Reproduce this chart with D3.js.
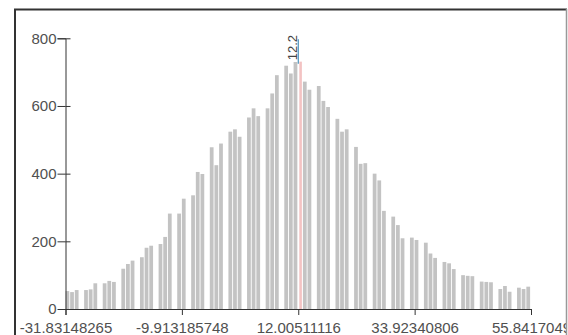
<!DOCTYPE html>
<html>
<head>
<meta charset="utf-8">
<script src="https://cdn.jsdelivr.net/npm/d3@7"></script>
<style>
  body { margin: 0; background: #fff; }
  svg { display: block; font-family: "Liberation Sans", Arial, sans-serif; }
</style>
</head>
<body>
<figure id="hist" style="margin:0"></figure>
<script>
// histogram counts, 100 equal bins from xMin to xMax (empty bins are 0)
const binCounts = [
  53, 50, 56, 0, 56, 58, 76, 0, 76, 83, 80, 0,
  119, 133, 143, 0, 153, 181, 187, 0, 192, 213, 282, 0,
  282, 326, 0, 336, 405, 399, 0, 478, 425, 489, 0,
  524, 531, 509, 0, 566, 593, 570, 0, 593, 637, 691, 0,
  719, 696, 730, 0, 672, 648, 0, 659, 615, 597, 0,
  562, 524, 531, 0, 479, 429, 431, 0, 400, 380, 290, 0,
  273, 248, 209, 0, 211, 204, 0, 196, 164, 151, 0,
  139, 135, 118, 0, 100, 98, 97, 0, 81, 80, 79, 0,
  59, 68, 51, 0, 63, 59, 66
];
const xMin = -31.83148265;
const xMax = 55.8417049;
const xTickValues = [-31.83148265, -9.913185748, 12.00511116, 33.92340806, 55.8417049];
const yTickValues = [0, 200, 400, 600, 800];
const meanValue = 12.2;
const meanLabel = "12.2";

let width = 568, height = 335;
let svg, x, y;

function createSvg() {
  svg = d3.select("figure#hist")
    .append("svg")
    .attr("width", width)
    .attr("height", height);

  // clip so long tick labels get cut at the frame like in the original
  svg.append("clipPath").attr("id", "frameClip")
    .append("rect")
    .attr("x", 16).attr("y", 10)
    .attr("width", 550).attr("height", 330);
}

function createScales() {
  x = d3.scaleLinear().domain([xMin, xMax]).range([65.5, 531]);
  y = d3.scaleLinear().domain([0, 800]).range([309, 38.3]);
}

function drawHistogram() {
  const g = svg.append("g").attr("clip-path", "url(#frameClip)");
  const binWidth = (xMax - xMin) / binCounts.length;

  // bars
  g.selectAll("rect.bar")
    .data(binCounts)
    .enter()
    .append("rect")
    .attr("class", "bar")
    .attr("x", (d, i) => x(xMin + i * binWidth))
    .attr("width", (d, i) => x(xMin + (i + 1) * binWidth) - x(xMin + i * binWidth) - 0.9)
    .attr("y", d => y(d))
    .attr("height", d => y(0) - y(d))
    .attr("fill", "#c3c3c3");

  // mean marker
  g.append("rect")
    .attr("x", x(meanValue))
    .attr("width", 2.6)
    .attr("y", y(731))
    .attr("height", y(0) - y(731))
    .attr("fill", "#f3c3c3");

  g.append("line")
    .attr("x1", x(meanValue) - 1).attr("x2", x(meanValue) - 1)
    .attr("y1", y(797)).attr("y2", y(725))
    .attr("stroke", "#4b93bb")
    .attr("stroke-width", 1.2);

  g.append("text")
    .attr("transform", "translate(" + (x(meanValue) - 2.5) + "," + y(735) + ") rotate(-90)")
    .style("font-size", "13px")
    .attr("fill", "#444")
    .text(meanLabel);

  // x axis
  const xAxis = g.append("g")
    .attr("transform", "translate(0," + y(0) + ")")
    .call(d3.axisBottom(x)
      .tickValues(xTickValues)
      .tickFormat(d => String(d))
      .tickSizeOuter(0)
      .tickSize(6)
      .tickPadding(7));
  xAxis.select(".domain").attr("stroke", "#333");
  xAxis.selectAll(".tick line").attr("stroke", "#333");
  xAxis.selectAll("text").style("font-size", "15px").attr("fill", "#505050");

  // y axis
  const yAxis = g.append("g")
    .attr("transform", "translate(" + x(xMin) + ",0)")
    .call(d3.axisLeft(y)
      .tickValues(yTickValues)
      .tickSizeOuter(0)
      .tickSize(8)
      .tickPadding(1));
  yAxis.select(".domain").attr("stroke", "#333");
  yAxis.selectAll(".tick line").attr("stroke", "#333");
  yAxis.selectAll(".tick").filter(d => d > 0)
    .append("line").attr("x1", 0).attr("x2", 5).attr("stroke", "#333");
  yAxis.selectAll(".tick").filter(d => d === 0).select("line").remove();
  yAxis.selectAll("text").style("font-size", "15px").attr("fill", "#505050");
}

function drawFrame() {
  svg.append("line").attr("x1", 14).attr("x2", 567).attr("y1", 9.5).attr("y2", 9.5)
    .attr("stroke", "#333").attr("stroke-width", 2);
  svg.append("line").attr("x1", 15).attr("x2", 15).attr("y1", 9).attr("y2", 340)
    .attr("stroke", "#333").attr("stroke-width", 2);
  svg.append("line").attr("x1", 566.5).attr("x2", 566.5).attr("y1", 9).attr("y2", 340)
    .attr("stroke", "#999").attr("stroke-width", 1.5);
}

createSvg();
createScales();
drawHistogram();
drawFrame();
</script>
</body>
</html>
